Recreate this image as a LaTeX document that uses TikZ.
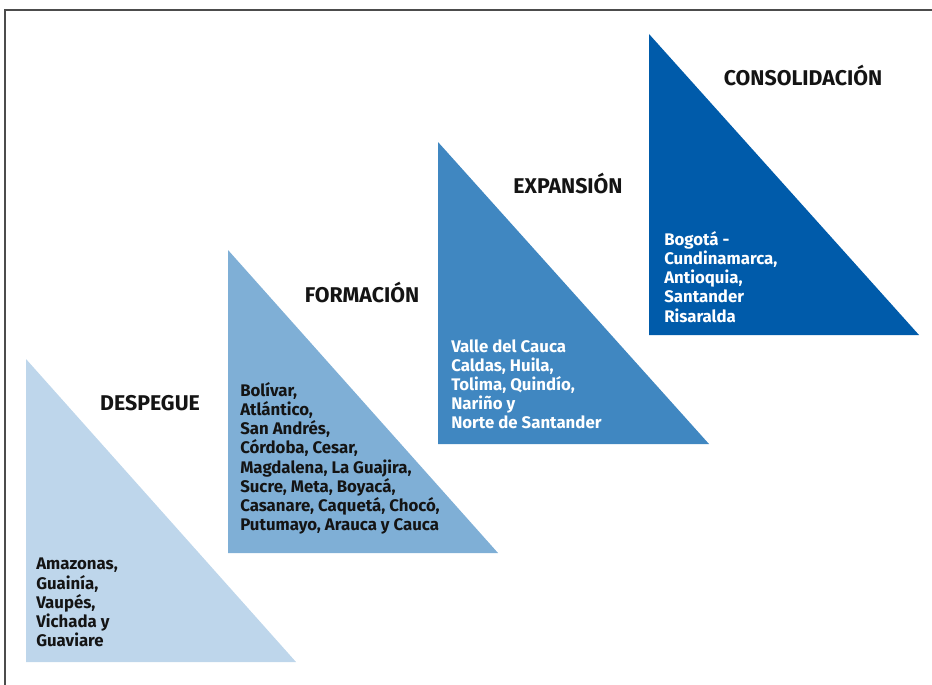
\documentclass[tikz,border=0pt]{standalone}
\usepackage{fontspec}
\setmainfont{Fira Sans}
\usepackage{tikz}
\usetikzlibrary{positioning}
\definecolor{despegue}{RGB}{190,214,235}
\definecolor{formacion}{RGB}{127,175,214}
\definecolor{expansion}{RGB}{64,135,193}
\definecolor{consolidacion}{RGB}{0,91,170}
\definecolor{ink}{RGB}{20,20,20}
\begin{document}
\begin{tikzpicture}[x=0.75pt,y=-0.75pt,
	phase/.style={font=\bfseries\fontsize{16}{19}\selectfont, text=ink, anchor=base, inner sep=0pt},
	towns/.style={font=\bfseries\fontsize{12.6}{14.4}\selectfont, align=left, anchor=north west, inner sep=0pt}]
				\useasboundingbox (0,0) rectangle (932,685);
				\draw[line width=1.1pt, black!70] (5,685) -- (5,10) -- (932,10);
				% stages, lowest first
				\fill[despegue] (26,359) -- (26,662) -- (296,662) -- cycle;
				\fill[formacion] (228,250) -- (228,553) -- (498,553) -- cycle;
				\fill[expansion] (438,142) -- (438,444) -- (709,444) -- cycle;
				\fill[consolidacion] (649,34) -- (649,335) -- (919,335) -- cycle;
				\node[phase] (despegueT) at (150,410) {DESPEGUE};
				\node[phase] (formacionT) at (362,302) {FORMACIÓN};
				\node[phase] (expansionT) at (568,193) {EXPANSIÓN};
				\node[phase] (consolidacionT) at (803,85) {CONSOLIDACIÓN};
				\node[towns, text=ink] (despegueL) at (36,558) {Amazonas,\\Guainía,\\Vaupés,\\Vichada y\\Guaviare};
				\node[towns, text=ink] (formacionL) at (240,382) {Bolívar,\\Atlántico,\\San Andrés,\\Córdoba, Cesar,\\Magdalena, La Guajira,\\Sucre, Meta, Boyacá,\\Casanare, Caquetá, Chocó,\\Putumayo, Arauca y Cauca};
				\node[towns, text=white] (expansionL) at (451,339) {Valle del Cauca\\Caldas, Huila,\\Tolima, Quindío,\\Nariño y\\Norte de Santander};
				\node[towns, text=white] (consolidacionL) at (664,231) {Bogotá -\\Cundinamarca,\\Antioquia,\\Santander\\Risaralda};
\end{tikzpicture}
\end{document}
